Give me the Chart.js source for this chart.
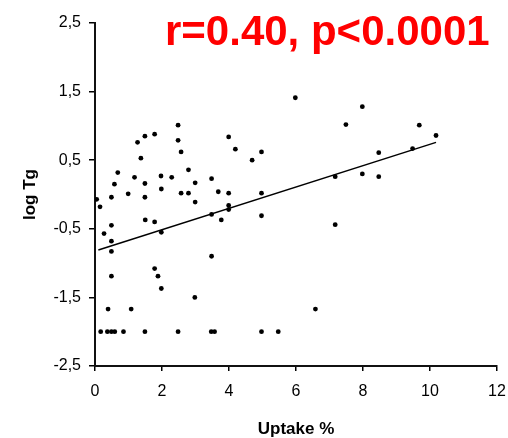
<!DOCTYPE html>
<html>
<head>
<meta charset="utf-8">
<script src="https://cdn.jsdelivr.net/npm/chart.js@4/dist/chart.umd.min.js"></script>
<style>
  html, body { margin: 0; padding: 0; background: #fff; }
  #wrap { width: 508px; height: 438px; }
</style>
</head>
<body>
<div id="wrap"><canvas id="chart" width="508" height="438"></canvas></div>
<script>
// ---------------- DATA ----------------

const uptake = [
  0.05, 0.15, 0.27, 0.49, 0.49, 0.58, 0.68, 0.99, 1.18, 1.27,
  1.37, 1.49, 1.49, 1.49, 1.50, 1.78, 1.78, 1.97, 1.98, 2.29,
  2.48, 2.48, 2.57, 2.57, 2.79, 2.79, 2.99, 2.99, 3.48, 3.68,
  3.48, 3.77, 0.49, 0.49, 0.49, 0.39, 1.08, 0.17, 0.37, 0.49,
  0.59, 0.85, 1.49, 2.48, 3.47, 3.57, 1.98, 1.78, 1.88, 1.98,
  2.98, 3.48, 5.98, 7.49, 3.99, 4.19, 4.97, 4.69, 3.99, 4.97,
  3.99, 3.99, 4.97, 7.17, 7.17, 6.58, 4.97, 5.47, 7.98, 9.68,
  10.18, 8.47, 9.48, 7.98, 8.47
];

const logTg = [
  -0.07, -0.18, -0.57, -0.45, -0.04, 0.15, 0.32, 0.01, 0.25, 0.76,
  0.53, 0.85, 0.16, -0.04, -0.37, 0.88, -0.40, 0.27, 0.08, 0.25,
  1.01, 0.79, 0.62, 0.02, 0.36, 0.02, 0.17, -0.11, 0.23, 0.04,
  -0.29, -0.37, -0.68, -0.83, -1.19, -1.67, -1.67, -2, -2, -2,
  -2, -2, -2, -2, -2, -2, -0.55, -1.08, -1.19, -1.37,
  -1.50, -0.90, 1.41, 1.02, 0.84, 0.66, 0.62, 0.50, 0.02, 0.02,
  -0.16, -0.22, -0.31, 0.26, -0.44, -1.67, -2, -2, 1.28, 1.01,
  0.86, 0.61, 0.67, 0.30, 0.26
];

// regression line end points
const fitX = [0.1, 10.18];
const fitY = [-0.81, 0.76];

const xTicks = [0, 2, 4, 6, 8, 10, 12];
const yTicks = [-2.5, -1.5, -0.5, 0.5, 1.5, 2.5];

const statText = "r=0.40, p<0.0001";

// ---------------- CHART ----------------

const points = uptake.map((x, i) => ({ x: x, y: logTg[i] }));
const fit = fitX.map((x, i) => ({ x: x, y: fitY[i] }));

const statLabel = {
  id: "statLabel",
  afterDraw(c) {
    const g = c.ctx;
    g.save();
    g.fillStyle = "#ff0000";
    g.font = "bold 42px 'Liberation Sans', Arial, sans-serif";
    g.textBaseline = "alphabetic";
    g.textAlign = "left";
    g.fillText(statText, 165, 45);
    g.restore();
  }
};

const font = { family: "'Liberation Sans', Arial, sans-serif", size: 16 };

new Chart(document.getElementById("chart").getContext("2d"), {
  type: "scatter",
  data: {
    datasets: [
      {
        label: "Patients",
        data: points,
        backgroundColor: "#000",
        borderColor: "#000",
        pointRadius: 2.4,
        pointBorderWidth: 0
      },
      {
        label: "Fit",
        type: "line",
        data: fit,
        borderColor: "#000",
        borderWidth: 1.5,
        pointRadius: 0,
        fill: false,
        tension: 0
      }
    ]
  },
  options: {
    responsive: false,
    animation: false,
    events: [],
    layout: { padding: { top: 23, right: 11, left: 0, bottom: 0 } },
    plugins: {
      legend: { display: false },
      tooltip: { enabled: false }
    },
    scales: {
      x: {
        type: "linear",
        min: 0,
        max: 12,
        afterBuildTicks: s => { s.ticks = xTicks.map(v => ({ value: v })); },
        afterFit: s => {
          s.height = 72;
          // keep the plot edge fixed, the last label may overhang
          s.paddingLeft = 0;
          s.paddingRight = 0;
        },
        ticks: { color: "#000", font: font, padding: 11 },
        grid: { drawOnChartArea: false, drawTicks: true, tickLength: 5, color: "#000", lineWidth: 1.5 },
        border: { display: true, color: "#111", width: 2 },
        title: {
          display: true,
          text: "Uptake %",
          color: "#000",
          font: { family: font.family, size: 17, weight: "bold", lineHeight: 1 },
          padding: { top: 0, bottom: 0 }
        }
      },
      y: {
        type: "linear",
        min: -2.5,
        max: 2.5,
        afterBuildTicks: s => { s.ticks = yTicks.map(v => ({ value: v })); },
        afterFit: s => { s.width = 95; },
        ticks: {
          color: "#000",
          font: font,
          padding: 8,
          callback: v => v.toFixed(1).replace(".", ",")
        },
        grid: { drawOnChartArea: false, drawTicks: true, tickLength: 6, color: "#000", lineWidth: 1.5 },
        border: { display: true, color: "#111", width: 2 },
        title: {
          display: true,
          text: "log Tg",
          color: "#000",
          font: { family: font.family, size: 17, weight: "bold", lineHeight: 1 },
          padding: { top: 22, bottom: 0 }
        }
      }
    }
  },
  plugins: [statLabel]
});
</script>
</body>
</html>
